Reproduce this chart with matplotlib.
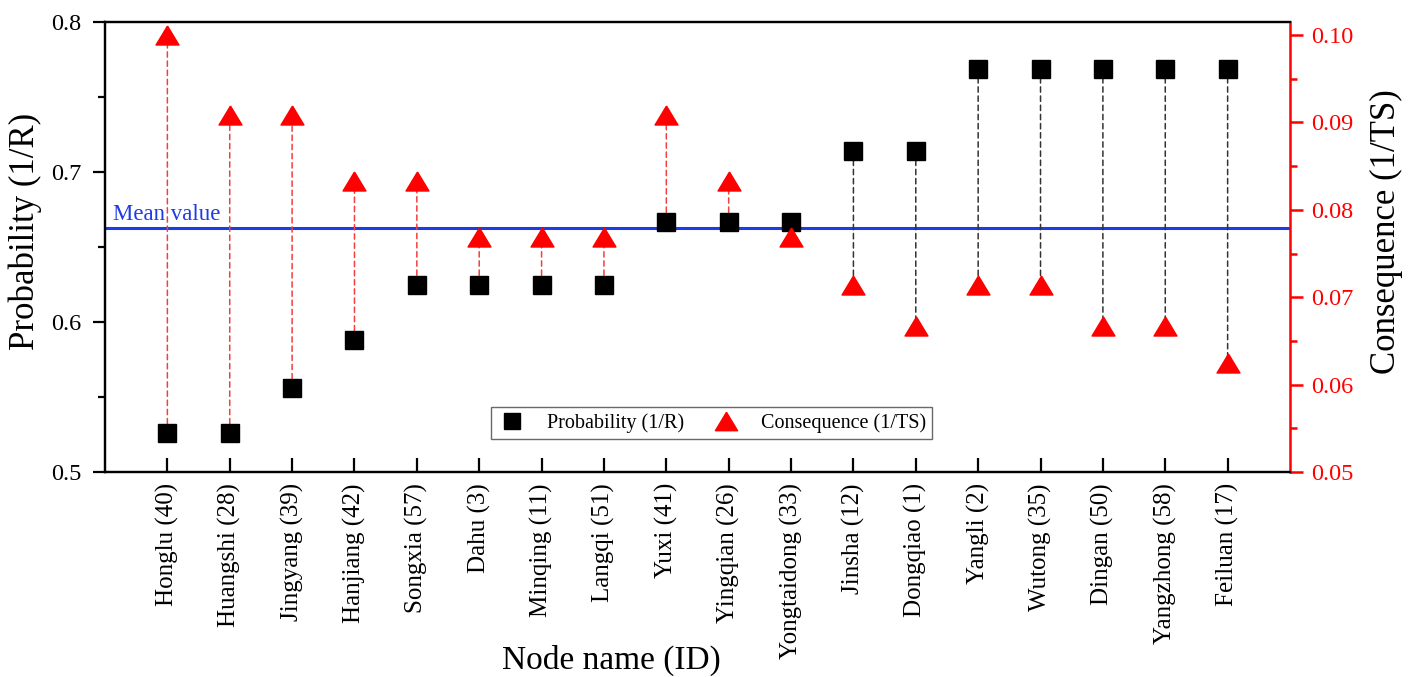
import matplotlib
matplotlib.use("Agg")
import matplotlib.pyplot as plt
from matplotlib.patches import ConnectionPatch
from matplotlib.lines import Line2D

plt.rcParams['font.family'] = ['Liberation Serif', 'DejaVu Serif']

# Node data
nodes = ["Honglu (40)", "Huangshi (28)", "Jingyang (39)", "Hanjiang (42)",
         "Songxia (57)", "Dahu (3)", "Minqing (11)", "Langqi (51)",
         "Yuxi (41)", "Yingqian (26)", "Yongtaidong (33)", "Jinsha (12)",
         "Dongqiao (1)", "Yangli (2)", "Wutong (35)", "Dingan (50)",
         "Yangzhong (58)", "Feiluan (17)"]
probability = [0.526, 0.526, 0.556, 0.588, 0.625, 0.625, 0.625, 0.625,
               0.667, 0.667, 0.667, 0.714, 0.714, 0.769, 0.769, 0.769,
               0.769, 0.769]
consequence = [0.1000, 0.0909, 0.0909, 0.0833, 0.0833, 0.0769, 0.0769,
               0.0769, 0.0909, 0.0833, 0.0769, 0.0714, 0.0667, 0.0714,
               0.0714, 0.0667, 0.0667, 0.0625]
mean_value = 0.663

W, H = 1412, 677
fig = plt.figure(figsize=(W / 100, H / 100), dpi=100)
ax = fig.add_axes([105 / W, 1 - 472 / H, 1185 / W, 450 / H])
ax2 = ax.twinx()

x = list(range(1, len(nodes) + 1))
ax.set_xlim(0, len(nodes) + 1)
ax.set_ylim(0.5, 0.8)
ax2.set_ylim(0.05, 0.1015)

red = '#ff0000'
tri_marker = [(0, 0.83), (-1, -0.83), (1, -0.83), (0, 0.83)]

# Mean line
ax.axhline(mean_value, color='#1f3be6', lw=2.2, zorder=1)
ax.text(0.13, mean_value + 0.002, "Mean value", color='#1f3be6',
        fontsize=16.5, ha='left', va='bottom')

# Connectors between the two series
for xi, p, c in zip(x, probability, consequence):
    p_disp = ax.transData.transform((xi, p))[1]
    c_disp = ax2.transData.transform((xi, c))[1]
    col = '#f04040' if c_disp > p_disp else '#333333'
    con = ConnectionPatch(xyA=(xi, p), coordsA=ax.transData,
                          xyB=(xi, c), coordsB=ax2.transData,
                          color=col, lw=1.1, linestyle=(0, (3.5, 2.5)),
                          zorder=1)
    ax2.add_artist(con)

ax2.plot(x, probability, linestyle='none', marker='s', ms=12.5,
         color='black', transform=ax.transData, zorder=3)
ax2.plot(x, consequence, linestyle='none', marker=tri_marker, ms=16.5,
         color=red, zorder=4)

# Axes styling
for sp in ['left', 'top', 'bottom']:
    ax.spines[sp].set_linewidth(1.6)
    ax2.spines[sp].set_linewidth(1.6)
ax2.spines['right'].set_color(red)
ax2.spines['right'].set_linewidth(1.8)
ax.spines['right'].set_visible(False)

ax.set_xticks(x)
ax.set_xticklabels(nodes, rotation=90, fontsize=18)
ax.tick_params(axis='x', direction='in', length=10, width=1.6, pad=8)
ax.set_yticks([0.5, 0.6, 0.7, 0.8])
ax.set_yticks([0.55, 0.65, 0.75], minor=True)
ax.yaxis.set_major_formatter(plt.FormatStrFormatter('%.1f'))
ax.tick_params(axis='y', which='major', direction='out', length=9,
               width=1.6, labelsize=17.5, pad=8)
ax.tick_params(axis='y', which='minor', direction='out', length=5, width=1.6)

ax2.set_yticks([0.05, 0.06, 0.07, 0.08, 0.09, 0.10])
ax2.set_yticks([0.055, 0.065, 0.075, 0.085, 0.095], minor=True)
ax2.yaxis.set_major_formatter(plt.FormatStrFormatter('%.2f'))
ax2.tick_params(axis='y', which='major', direction='out', length=9,
                width=1.8, colors=red, labelsize=17.5, pad=6)
ax2.tick_params(axis='y', which='minor', direction='out', length=5,
                width=1.8, colors=red)

ax.set_ylabel("Probability (1/R)", fontsize=25)
ax.yaxis.set_label_coords(-0.053, 0.535)
ax2.set_ylabel("Consequence (1/TS)", fontsize=25)
ax2.yaxis.set_label_coords(1.0675, 0.535)
ax.set_xlabel("Node name (ID)", fontsize=24)
ax.xaxis.set_label_coords(0.427, -0.384)

handles = [Line2D([], [], linestyle='none', marker='s', ms=12, color='black'),
           Line2D([], [], linestyle='none', marker=tri_marker, ms=16, color=red)]
leg = ax2.legend(handles, ["Probability (1/R)", "Consequence (1/TS)"],
                 ncol=2, loc='lower left',
                 bbox_to_anchor=((491 - 105) / 1185, (472 - 439) / 450),
                 fontsize=14.5, frameon=True, fancybox=False,
                 edgecolor='#444444', borderpad=0.3, handletextpad=1.0,
                 columnspacing=1.3, borderaxespad=0, handlelength=1.5)
leg.get_frame().set_linewidth(1.0)

fig.savefig("out.png", dpi=100)
